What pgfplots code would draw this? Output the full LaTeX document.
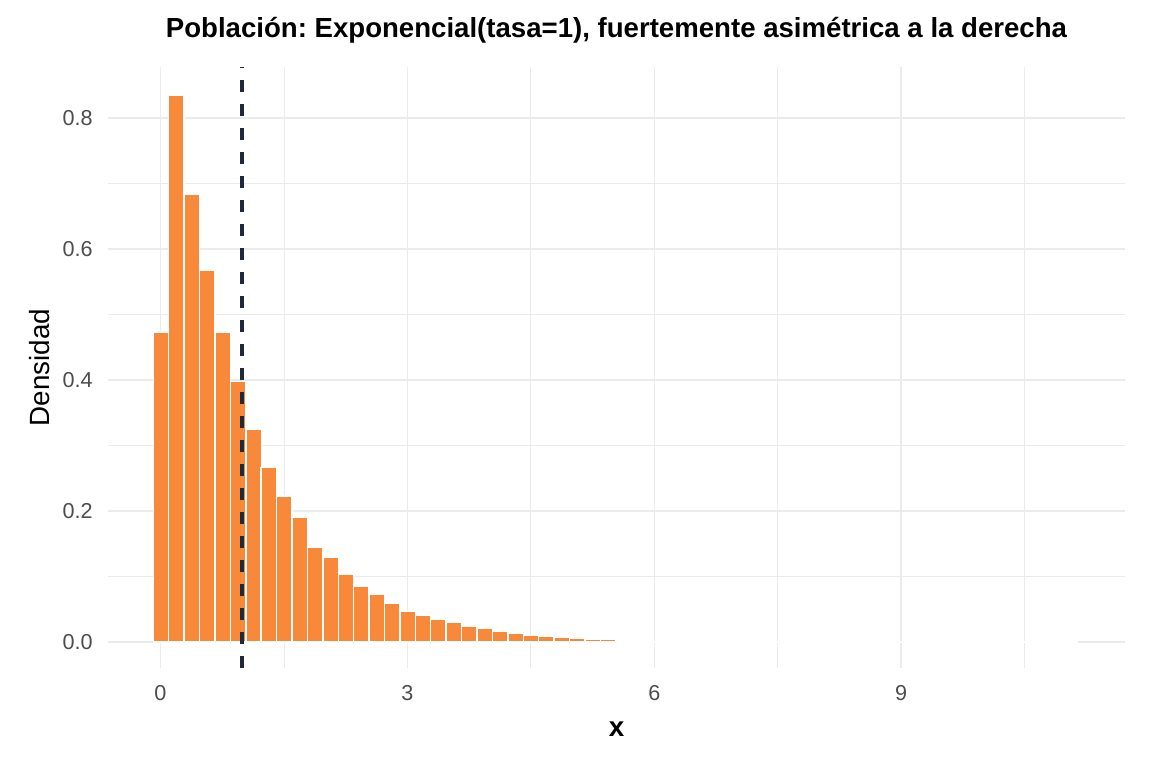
\documentclass[border=0pt]{standalone}
\usepackage{pgfplots}
\pgfplotsset{compat=1.18}
\usepackage{fontspec}
\setmainfont{Liberation Sans}
\frenchspacing

\definecolor{barorange}{HTML}{F8893B}
\definecolor{meanline}{HTML}{1E293B}
\definecolor{gridgray}{HTML}{EBEBEB}
\definecolor{tickgray}{HTML}{4D4D4D}

\begin{document}
\begin{tikzpicture}
\path[use as bounding box] (0,0) rectangle (576bp,384bp);
\begin{axis}[
    at={(54bp,49.75bp)}, anchor=south west,
    width=508.5bp, height=300.8bp, scale only axis,
    xmin=-0.638, xmax=11.72,
    ymin=-0.0405, ymax=0.878,
    xtick={0,3,6,9},
    ytick={0,0.2,0.4,0.6,0.8},
    minor xtick={1.5,4.5,7.5,10.5},
    minor ytick={0.1,0.3,0.5,0.7},
    grid=both,
    major grid style={color=gridgray, line width=0.7bp},
    minor grid style={color=gridgray, line width=0.35bp},
    axis line style={draw=none},
    major tick length=0pt, minor tick length=0pt,
    /pgf/number format/assume math mode=true,
    yticklabel style={/pgf/number format/fixed, /pgf/number format/fixed zerofill,
        /pgf/number format/precision=1, anchor=east, inner sep=0pt, xshift=-7.5bp},
    xticklabel style={anchor=north, inner sep=0pt, yshift=-8.25bp},
    ticklabel style={font=\fontsize{10.8bp}{12bp}\selectfont, text=tickgray},
    title={Población: Exponencial(tasa=1), fuertemente asimétrica a la derecha},
    title style={at={(axis description cs:0.5,1.0282)}, anchor=base, inner sep=0pt,
        font=\fontsize{13.8bp}{16bp}\selectfont\bfseries},
    xlabel={x},
    xlabel style={at={(axis description cs:0.5,-0.113)}, anchor=base, inner sep=0pt,
        font=\fontsize{13.9bp}{16bp}\selectfont\bfseries},
    ylabel={Densidad},
    ylabel style={at={(axis description cs:-0.0577,0.5)}, anchor=base, inner sep=0pt,
        font=\fontsize{13.9bp}{16bp}\selectfont},
]
% histogram, 60 bins of width 0.1873
\addplot[ybar, bar width=0.1873, fill=barorange, draw=white, line width=0.7bp] coordinates {
    (0.006,0.473) (0.193,0.835) (0.381,0.684) (0.568,0.567) (0.755,0.473)
    (0.943,0.398) (1.130,0.324) (1.317,0.266) (1.504,0.223) (1.692,0.191)
    (1.879,0.145) (2.066,0.129) (2.254,0.104) (2.441,0.0846) (2.628,0.0724)
    (2.816,0.0586) (3.003,0.0464) (3.190,0.0403) (3.377,0.0342) (3.565,0.0296)
    (3.752,0.0235) (3.939,0.0205) (4.127,0.0159) (4.314,0.0128) (4.501,0.0098)
    (4.689,0.0082) (4.876,0.0067) (5.063,0.0052) (5.250,0.0037) (5.438,0.0037)
    (5.625,0) (5.812,0) (6.000,0) (6.187,0) (6.374,0)
    (6.562,0) (6.749,0) (6.936,0) (7.123,0) (7.311,0)
    (7.498,0) (7.685,0) (7.873,0) (8.060,0) (8.247,0)
    (8.435,0) (8.622,0) (8.809,0) (8.996,0) (9.184,0)
    (9.371,0) (9.558,0) (9.746,0) (9.933,0) (10.120,0)
    (10.308,0) (10.495,0) (10.682,0) (10.869,0) (11.057,0)
};
% sample mean
\addplot[meanline, line width=1.6bp, dash pattern=on 6bp off 6bp] coordinates {
    (0.99,-0.0405) (0.99,0.878)
};
\end{axis}
\end{tikzpicture}
\end{document}
